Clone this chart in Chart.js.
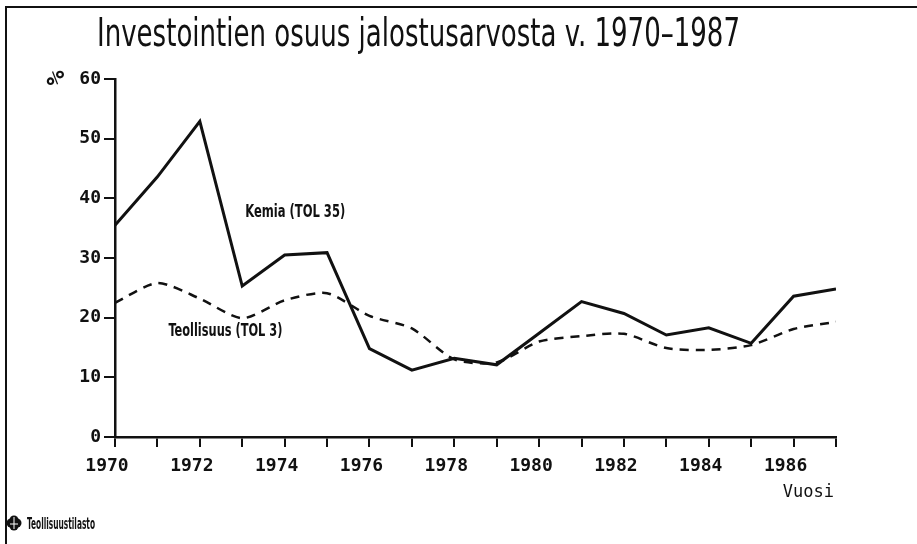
<!DOCTYPE html>
<html>
<head>
<meta charset="utf-8">
<script src="https://cdn.jsdelivr.net/npm/chart.js@4/dist/chart.umd.min.js"></script>
<style>
  html, body { margin: 0; padding: 0; background: #fff; }
  #wrap { position: relative; width: 917px; height: 544px; }
</style>
</head>
<body>
<div id="wrap"><canvas id="chart" width="917" height="544"></canvas></div>
<script>
  const years = [1970, 1971, 1972, 1973, 1974, 1975, 1976, 1977, 1978,
                 1979, 1980, 1981, 1982, 1983, 1984, 1985, 1986, 1987];
  // Kemia (TOL 35), %
  const kemia = [35.5, 43.6, 52.9, 25.3, 30.5, 30.9, 14.8, 11.2, 13.2,
                 12.1, 17.4, 22.7, 20.7, 17.1, 18.3, 15.7, 23.6, 24.8];
  // Teollisuus (TOL 3), %
  const teollisuus = [22.5, 25.8, 23.2, 19.9, 22.9, 24.1, 20.3, 18.2, 13.0,
                      12.5, 16.0, 16.9, 17.3, 14.9, 14.6, 15.4, 18.1, 19.3];
  const yTicks = [0, 10, 20, 30, 40, 50, 60];

  const titleText = "Investointien osuus jalostusarvosta v. 1970\u20131987";
  const kemiaLabel = "Kemia (TOL 35)";
  const teollLabel = "Teollisuus (TOL 3)";
  const xTitle = "Vuosi";
  const yUnit = "%";
  const sourceText = "Teollisuustilasto";

  const INK = "#111";
  const narrow = '"Liberation Sans Narrow", "DejaVu Sans Condensed", sans-serif';
  const mono = '"DejaVu Sans Mono", "Liberation Mono", monospace';

  /** fillText squeezed/stretched to a given width (the original uses a very narrow plotter font) */
  function fitText(ctx, text, x, y, w, font) {
    ctx.save();
    ctx.font = font;
    const m = ctx.measureText(text).width;
    ctx.translate(x, y);
    ctx.scale(w / m, 1);
    ctx.fillText(text, 0, 0);
    ctx.restore();
  }

  const decorations = {
    id: "decorations",
    afterDraw(chart) {
      const ctx = chart.ctx;
      const xs = chart.scales.x;
      const ys = chart.scales.y;
      ctx.save();
      ctx.fillStyle = INK;
      ctx.strokeStyle = INK;

      // frame (top + left edge of the scanned sheet)
      ctx.lineWidth = 2;
      ctx.beginPath();
      ctx.moveTo(917, 7);
      ctx.lineTo(6, 7);
      ctx.lineTo(6, 544);
      ctx.stroke();

      ctx.textBaseline = "alphabetic";
      ctx.textAlign = "left";
      fitText(ctx, titleText, 97, 46, 643, "39px " + narrow);

      // series labels, anchored in data space
      fitText(ctx, kemiaLabel, xs.getPixelForValue(1973.07), ys.getPixelForValue(36.9), 100, "bold 17px " + narrow);
      fitText(ctx, teollLabel, xs.getPixelForValue(1971.26), ys.getPixelForValue(16.9), 114, "bold 17px " + narrow);

      // unit on the y axis
      ctx.save();
      ctx.translate(57, 78);
      ctx.rotate(-Math.PI / 2);
      ctx.font = "bold 25px " + mono;
      ctx.textAlign = "center";
      ctx.textBaseline = "middle";
      ctx.fillText(yUnit, 0, 0);
      ctx.restore();

      ctx.font = "17px " + mono;
      ctx.textAlign = "right";
      ctx.fillText(xTitle, 834, 497);

      // source logo + text
      const cx = 14, cy = 523;
      [[-3, 0], [3, 0], [0, -3], [0, 3]].forEach(([dx, dy]) => {
        ctx.beginPath();
        ctx.arc(cx + dx, cy + dy, 4.5, 0, Math.PI * 2);
        ctx.fill();
      });
      ctx.strokeStyle = "#fff";
      ctx.lineWidth = 1;
      ctx.beginPath();
      ctx.moveTo(cx, cy - 6);
      ctx.lineTo(cx, cy + 6);
      ctx.moveTo(cx - 4, cy + 1);
      ctx.lineTo(cx + 4, cy + 1);
      ctx.stroke();
      ctx.textAlign = "left";
      fitText(ctx, sourceText, 27, 529, 68, "bold 16px " + narrow);

      ctx.restore();
    },
  };

  const toXY = (arr) => arr.map((v, i) => ({ x: years[i], y: v }));

  new Chart(document.getElementById("chart"), {
    type: "line",
    data: {
      datasets: [
        {
          label: kemiaLabel,
          data: toXY(kemia),
          borderColor: INK,
          borderWidth: 3,
          pointRadius: 0,
          tension: 0,
        },
        {
          label: teollLabel,
          data: toXY(teollisuus),
          borderColor: INK,
          borderWidth: 2.5,
          borderDash: [9, 7],
          pointRadius: 0,
          tension: 0.25,
        },
      ],
    },
    options: {
      responsive: false,
      animation: false,
      layout: { padding: { top: 79, right: 81, left: 0, bottom: 0 } },
      plugins: {
        legend: { display: false },
        tooltip: { enabled: false },
      },
      scales: {
        x: {
          type: "linear",
          min: years[0],
          max: years[years.length - 1],
          afterFit: (s) => { s.height = 107; },
          afterBuildTicks: (s) => { s.ticks = years.map((v) => ({ value: v })); },
          border: { display: true, color: INK, width: 2.5 },
          grid: { drawOnChartArea: false, color: INK, lineWidth: 2, tickLength: 10 },
          ticks: {
            color: INK,
            font: { family: mono, size: 18, weight: "bold" },
            maxRotation: 0,
            autoSkip: false,
            padding: 9,
            labelOffset: -8,
            callback: (v) => (v % 2 === 0 && v < 1987 ? String(v) : ""),
          },
        },
        y: {
          min: 0,
          max: 60,
          afterFit: (s) => { s.width = 115; },
          afterBuildTicks: (s) => { s.ticks = yTicks.map((v) => ({ value: v })); },
          border: { display: true, color: INK, width: 2.5 },
          grid: { drawOnChartArea: false, color: INK, lineWidth: 2, tickLength: 11 },
          ticks: {
            color: INK,
            font: { family: mono, size: 18, weight: "bold" },
            padding: 3,
          },
        },
      },
    },
    plugins: [decorations],
  });
</script>
</body>
</html>
